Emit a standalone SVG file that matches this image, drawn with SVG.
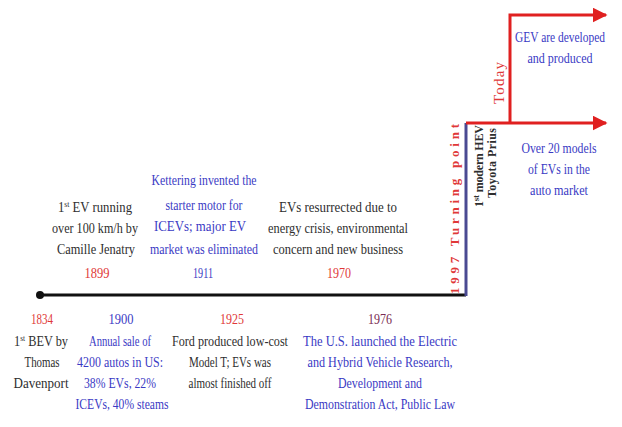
<svg xmlns="http://www.w3.org/2000/svg" width="622" height="427" viewBox="0 0 622 427">
  <style>
    text { font-family: "Liberation Serif", "Times New Roman", serif; font-size: 15px; text-anchor: middle; }
    .blk { fill: #2e2e2e; }
    .blu { fill: #3a3ac4; }
    .red { fill: #e03838; }
    .dkr { fill: #7a2c52; }
    .vert { font-size: 13px; font-weight: bold; }
    .vsm { font-size: 12px; font-weight: bold; }
    .sup { font-size: 9px; }
    .axis { fill: none; stroke: #111; stroke-width: 3; }
    .turn { fill: none; stroke: #4a4a92; stroke-width: 3; }
    .now { fill: none; stroke: #e02020; stroke-width: 3; }
  </style>
  <defs>
    <marker id="arrowRed" viewBox="0 0 10 10" refX="9" refY="5" markerWidth="5" markerHeight="5" markerUnits="strokeWidth" orient="auto">
      <path d="M0,0 L10,5 L0,10 Z" fill="#e02020"/>
    </marker>
  </defs>

  <!-- timeline connectors -->
  <g id="connectors">
    <circle cx="40" cy="295" r="4" fill="#111"/>
    <path class="axis" d="M40,295 H466"/>
    <path class="turn" d="M466,296 V123"/>
    <path class="now" d="M466,123 H606" marker-end="url(#arrowRed)"/>
    <path class="now" d="M510,124 V15 H606" marker-end="url(#arrowRed)"/>
  </g>

  <!-- events above the axis -->
  <g id="ev1899">
    <text class="blk" x="95" y="212" textLength="74" lengthAdjust="spacingAndGlyphs">1<tspan class="sup" dy="-5">st</tspan><tspan dy="5"> EV running</tspan></text>
    <text class="blk" x="95" y="233" textLength="86" lengthAdjust="spacingAndGlyphs">over 100 km/h by</text>
    <text class="blk" x="96" y="254" textLength="78" lengthAdjust="spacingAndGlyphs">Camille Jenatry</text>
    <text class="red" x="97" y="278" textLength="25" lengthAdjust="spacingAndGlyphs">1899</text>
  </g>
  <g id="ev1911">
    <text class="blu" x="204" y="185" textLength="105" lengthAdjust="spacingAndGlyphs">Kettering invented the</text>
    <text class="blu" x="204" y="210" textLength="77" lengthAdjust="spacingAndGlyphs">starter motor for</text>
    <text class="blu" x="200" y="231" textLength="92" lengthAdjust="spacingAndGlyphs">ICEVs; major EV</text>
    <text class="blu" x="204" y="254" textLength="108" lengthAdjust="spacingAndGlyphs">market was eliminated</text>
    <text class="blu" x="203" y="278" textLength="20" lengthAdjust="spacingAndGlyphs">1911</text>
  </g>
  <g id="ev1970">
    <text class="blk" x="338" y="212" textLength="118" lengthAdjust="spacingAndGlyphs">EVs resurrected due to</text>
    <text class="blk" x="338" y="233" textLength="140" lengthAdjust="spacingAndGlyphs">energy crisis, environmental</text>
    <text class="blk" x="338" y="254" textLength="130" lengthAdjust="spacingAndGlyphs">concern and new business</text>
    <text class="red" x="339" y="278" textLength="24" lengthAdjust="spacingAndGlyphs">1970</text>
  </g>

  <!-- events below the axis -->
  <g id="ev1834">
    <text class="red" x="42" y="324" textLength="22" lengthAdjust="spacingAndGlyphs">1834</text>
    <text class="blk" x="41" y="346" textLength="54" lengthAdjust="spacingAndGlyphs">1<tspan class="sup" dy="-5">st</tspan><tspan dy="5"> BEV by</tspan></text>
    <text class="blk" x="42" y="367" textLength="35" lengthAdjust="spacingAndGlyphs">Thomas</text>
    <text class="blk" x="41" y="388" textLength="55" lengthAdjust="spacingAndGlyphs">Davenport</text>
  </g>
  <g id="ev1900">
    <text class="blu" x="121" y="324" textLength="25" lengthAdjust="spacingAndGlyphs">1900</text>
    <text class="blu" x="120" y="346" textLength="62" lengthAdjust="spacingAndGlyphs">Annual sale of</text>
    <text class="blu" x="120" y="367" textLength="86" lengthAdjust="spacingAndGlyphs">4200 autos in US:</text>
    <text class="blu" x="120" y="388" textLength="72" lengthAdjust="spacingAndGlyphs">38% EVs, 22%</text>
    <text class="blu" x="122" y="409" textLength="93" lengthAdjust="spacingAndGlyphs">ICEVs, 40% steams</text>
  </g>
  <g id="ev1925">
    <text class="red" x="232" y="324" textLength="24" lengthAdjust="spacingAndGlyphs">1925</text>
    <text class="blk" x="230" y="346" textLength="116" lengthAdjust="spacingAndGlyphs">Ford produced low-cost</text>
    <text class="blk" x="230" y="367" textLength="82" lengthAdjust="spacingAndGlyphs">Model T; EVs was</text>
    <text class="blk" x="230" y="388" textLength="83" lengthAdjust="spacingAndGlyphs">almost finished off</text>
  </g>
  <g id="ev1976">
    <text class="dkr" x="380" y="324" textLength="24" lengthAdjust="spacingAndGlyphs">1976</text>
    <text class="blu" x="380" y="346" textLength="154" lengthAdjust="spacingAndGlyphs">The U.S. launched the Electric</text>
    <text class="blu" x="380" y="367" textLength="145" lengthAdjust="spacingAndGlyphs">and Hybrid Vehicle Research,</text>
    <text class="blu" x="380" y="388" textLength="84" lengthAdjust="spacingAndGlyphs">Development and</text>
    <text class="blu" x="380" y="409" textLength="150" lengthAdjust="spacingAndGlyphs">Demonstration Act, Public Law</text>
  </g>

  <!-- turning point and today -->
  <g id="ev1997">
    <text class="red vert" transform="translate(459,209) rotate(-90)" textLength="170" lengthAdjust="spacing">1997 Turning point</text>
    <text class="blk vsm" transform="translate(483,166) rotate(-90)" textLength="82" lengthAdjust="spacing">1<tspan class="sup" dy="-4">st</tspan><tspan dy="4"> modern HEV</tspan></text>
    <text class="blk vsm" transform="translate(496,163) rotate(-90)" textLength="70" lengthAdjust="spacing">Toyota Prius</text>
  </g>
  <g id="evModels">
    <text class="blu" x="559" y="153" textLength="75" lengthAdjust="spacingAndGlyphs">Over 20 models</text>
    <text class="blu" x="559" y="174" textLength="62" lengthAdjust="spacingAndGlyphs">of EVs in the</text>
    <text class="blu" x="559" y="195" textLength="58" lengthAdjust="spacingAndGlyphs">auto market</text>
  </g>
  <g id="evToday">
    <text class="red" font-size="12" transform="translate(504,83) rotate(-90)" textLength="42" lengthAdjust="spacing">Today</text>
    <text class="blu" x="560" y="42" textLength="90" lengthAdjust="spacingAndGlyphs">GEV are developed</text>
    <text class="blu" x="560" y="63" textLength="65" lengthAdjust="spacingAndGlyphs">and produced</text>
  </g>
</svg>
